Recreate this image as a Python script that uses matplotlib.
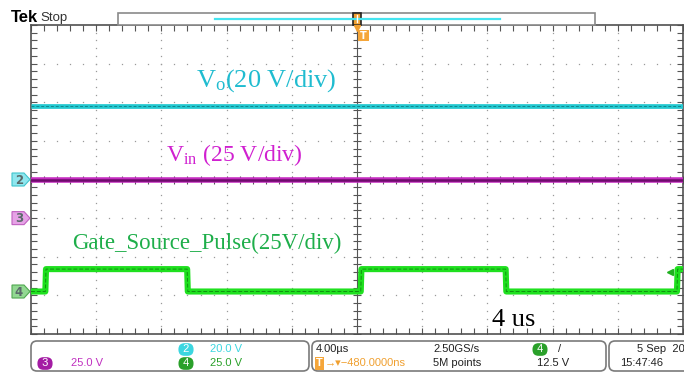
import numpy as np
import matplotlib
matplotlib.use("Agg")
import matplotlib.pyplot as plt
from matplotlib.patches import Rectangle, FancyBboxPatch, Polygon

plt.rcParams["mathtext.fontset"] = "custom"
plt.rcParams["mathtext.rm"] = "Liberation Serif"
plt.rcParams["mathtext.it"] = "Liberation Serif:italic"

# --- scope settings ---
time_per_div_us = 4.0
ch2_scale, ch2_ground = 20.0, 0.0     # V/div, ground position (div)
ch3_scale, ch3_ground = 25.0, -1.0
ch4_scale, ch4_ground = 25.0, -2.9
trigger_level_v = 12.5

# --- traces (time in us, value in V) ---
vo_t = [-20.0, 20.0]
vo_v = [38.0, 38.0]
vin_t = [-20.0, 20.0]
vin_v = [25.0, 25.0]
gate_t = [-20.0, -19.12, -19.08, -10.42, -10.38, 0.23, 0.27, 9.12, 9.16, 19.63, 19.67, 20.0]
gate_v = [0.0, 0.0, 14.5, 14.5, 0.0, 0.0, 14.5, 14.5, 0.0, 0.0, 14.5, 14.5]


def to_div(v, scale, ground):
    return ground + np.asarray(v) / scale


fig = plt.figure(figsize=(6.84, 3.72), dpi=100)
W, H = 684, 372
top_px, bot_px, left_px, right_px = 25, 334, 31, 683
ax = fig.add_axes([left_px / W, 1 - bot_px / H, (right_px - left_px) / W, (bot_px - top_px) / H])
ax.set_xlim(-20, 20)
ax.set_ylim(-4, 4)
ax.set_xticks([])
ax.set_yticks([])
for s in ax.spines.values():
    s.set_color("#505050")
    s.set_linewidth(1.2)

# graticule dots
dot = dict(ls="none", marker="s", ms=0.9, color="#9a9a9a", mew=0)
ys = np.arange(-4, 4.001, 0.2)
xs = np.arange(-20, 20.001, 0.8)
for xv in range(-16, 17, 4):
    if xv != 0:
        ax.plot([xv] * len(ys), ys, **dot)
for yv in range(-3, 4):
    if yv != 0:
        ax.plot(xs, [yv] * len(xs), **dot)
# center cross with minor ticks
ax.axvline(0, color="#555555", lw=0.8)
ax.axhline(0, color="#555555", lw=0.8)
ax.plot([0] * len(ys), ys, ls="none", marker="_", ms=6, color="#555555", mew=0.8)
ax.plot(xs, [0] * len(xs), ls="none", marker="|", ms=6, color="#555555", mew=0.8)
# edge ticks
ax.plot([-20] * len(ys), ys, ls="none", marker=1, ms=4, color="#555555", mew=0.8, clip_on=False)
ax.plot([20] * len(ys), ys, ls="none", marker=0, ms=4, color="#555555", mew=0.8, clip_on=False)
ax.plot(xs, [4] * len(xs), ls="none", marker=3, ms=4, color="#555555", mew=0.8, clip_on=False)
ax.plot(xs, [-4] * len(xs), ls="none", marker=2, ms=4, color="#555555", mew=0.8, clip_on=False)

# traces
vo_d = to_div(vo_v, ch2_scale, ch2_ground)
ax.plot(vo_t, vo_d, color="#22c8d0", lw=3.4, zorder=5, solid_capstyle="butt")
ax.plot(vo_t, vo_d, color="#12888e", lw=0.7, ls=(0, (3, 2)), zorder=6)

vin_d = to_div(vin_v, ch3_scale, ch3_ground)
ax.plot(vin_t, vin_d, color="#c42cc0", lw=4.0, zorder=5, solid_capstyle="butt")
ax.plot(vin_t, vin_d, color="#6e0c6c", lw=1.8, zorder=6)

gate_d = to_div(gate_v, ch4_scale, ch4_ground)
ax.plot(gate_t, gate_d, color="#1fe01f", lw=4.4, zorder=5, solid_capstyle="butt")
ax.plot(gate_t, gate_d, color="#109010", lw=0.7, ls=(0, (4, 2)), zorder=6)

# trigger level arrow
ax.plot([19.2], [to_div(trigger_level_v, ch4_scale, ch4_ground)], marker="<", ms=5,
        color="#20b020", ls="none", zorder=7)

# annotations
ax.text(-9.9, 2.4, r"V$_{\mathrm{o}}$(20 V/div)", color="#20bcd0", fontsize=19,
        family="Liberation Serif", va="baseline", zorder=8)
ax.text(-11.7, 0.47, r"V$_{\mathrm{in}}$ (25 V/div)", color="#d020d0", fontsize=17,
        family="Liberation Serif", va="baseline", zorder=8)
ax.text(-17.5, -1.8, "Gate_Source_Pulse(25V/div)", color="#1eae4a", fontsize=16.5,
        family="Liberation Serif", va="baseline", zorder=8)
ax.text(8.3, -3.78, "4 us", color="black", fontsize=19,
        family="Liberation Serif", va="baseline", zorder=8)

# --- overlay in pixel coordinates for the scope chrome ---
ov = fig.add_axes([0, 0, 1, 1], zorder=10)
ov.set_xlim(0, W)
ov.set_ylim(H, 0)
ov.axis("off")
ov.patch.set_alpha(0)


def ypx(div):
    return top_px + (4 - div) * (bot_px - top_px) / 8


# channel tags
for label, div, fc, ec in [("2", ch2_ground, "#8ee6ee", "#40c4cc"),
                           ("3", ch3_ground, "#e6a2e6", "#c060c0"),
                           ("4", ch4_ground, "#92d892", "#50a850")]:
    py = ypx(div)
    ov.add_patch(Polygon([(12, py - 6.5), (24, py - 6.5), (30, py), (24, py + 6.5), (12, py + 6.5)],
                         closed=True, fc=fc, ec=ec, lw=0.8))
    ov.text(19, py + 0.5, label, color="#5a6a6a", fontsize=8.5, ha="center", va="center",
            family="DejaVu Sans", fontweight="bold")

# top bar
ov.text(11, 18, "Tek", fontsize=12, fontweight="bold", color="black", va="center",
        family="Liberation Sans")
ov.text(40, 18.5, "Stop", fontsize=9.5, color="#333333", va="center", family="Liberation Sans")
ov.add_patch(Rectangle((118, 12.5), 477, 12, fc="white", ec="#8a8a8a", lw=1.2))
ov.plot([215, 500], [18.5, 18.5], color="#44e4f0", lw=1.6)
ov.add_patch(Rectangle((353, 12.5), 8, 12, fc="#f0a030", ec="#222222", lw=1.2))
ov.plot([357, 357], [15, 22], color="white", lw=1)
ov.plot([357], [28], marker="v", ms=5, color="#f0a030")
ov.add_patch(Rectangle((358, 30), 11, 11, fc="#f5a63a", ec="none"))
ov.text(363.5, 36, "T", color="white", fontsize=7, ha="center", va="center", fontweight="bold")

# status bar
for x0, x1 in [(31, 309), (312, 606), (609, 700)]:
    ov.add_patch(FancyBboxPatch((x0 + 3, 344), x1 - x0 - 6, 24,
                                boxstyle="round,pad=3,rounding_size=6",
                                fc="white", ec="#7a7a7a", lw=1.2))

sb = dict(fontsize=8, va="center", family=["Liberation Sans", "DejaVu Sans"])
pill = dict(boxstyle="round,pad=0.12,rounding_size=0.55", ec="none")
ov.text(186, 349.5, " 2 ", color="white", ha="center", bbox=dict(fc="#3cd6e0", **pill), **sb)
ov.text(210, 349.5, "20.0 V", color="#3cd6e0", **sb)
ov.text(45, 363.5, " 3 ", color="white", ha="center", bbox=dict(fc="#a41ca4", **pill), **sb)
ov.text(71, 363.5, "25.0 V", color="#c030c0", **sb)
ov.text(186, 363.5, " 4 ", color="white", ha="center", bbox=dict(fc="#2aa02a", **pill), **sb)
ov.text(210, 363.5, "25.0 V", color="#2aa02a", **sb)

ov.text(316, 349.5, "4.00\u00b5s", color="#222222", **sb)
ov.text(433, 349.5, "2.50GS/s", color="#222222", **sb)
ov.text(540, 349.5, " 4 ", color="white", ha="center", bbox=dict(fc="#2aa02a", **pill), **sb)
ov.text(558, 349.5, "/", color="#222222", **sb)
ov.text(319.5, 363.5, "T", color="white", ha="center", fontweight="bold",
        bbox=dict(boxstyle="square,pad=0.12", fc="#f5a63a", ec="none"), **sb)
ov.text(325, 363.5, "\u2192\u25be\u2212480.0000ns", color="#f0a030", **sb)
ov.text(433, 363.5, "5M points", color="#222222", **sb)
ov.text(537, 363.5, "12.5 V", color="#222222", **sb)
ov.text(637, 349.5, "5 Sep  20", color="#222222", **sb)
ov.text(620, 363.5, "15:47:46", color="#222222", **sb)

fig.savefig("out.png", dpi=100, facecolor="white")
